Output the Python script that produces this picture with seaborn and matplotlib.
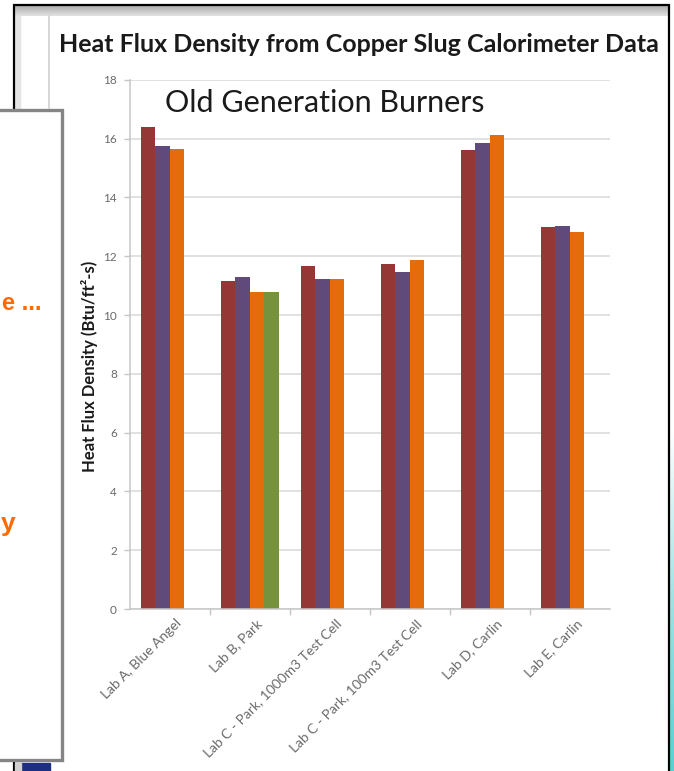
import numpy as np
import pandas as pd
import matplotlib
matplotlib.use("Agg")
import matplotlib.pyplot as plt
from matplotlib.patches import Rectangle
from matplotlib.transforms import ScaledTranslation
import seaborn as sns

# ---- data -------------------------------------------------------------
labs = ["Lab A, Blue Angel", "Lab B, Park", "Lab C - Park, 1000m3 Test Cell",
        "Lab C - Park, 100m3 Test Cell", "Lab D, Carlin", "Lab E, Carlin"]
runs = ["Run 1", "Run 2", "Run 3", "Run 4"]
run1 = [16.40, 11.15, 11.67, 11.75, 15.60, 13.00]
run2 = [15.76, 11.29, 11.22, 11.47, 15.86, 13.04]
run3 = [15.65, 10.78, 11.22, 11.88, 16.13, 12.82]
run4 = [None, 10.78, None, None, None, None]
colors = ["#953735", "#5f4a7b", "#e46c0a", "#76923c"]
yticks = [0, 2, 4, 6, 8, 10, 12, 14, 16, 18]

rows = []
for run, vals in zip(runs, [run1, run2, run3, run4]):
    for lab, v in zip(labs, vals):
        if v is not None:
            rows.append({"lab": lab, "run": run, "flux": v})
df = pd.DataFrame(rows)

sns.set_theme(style="white")
plt.rcParams["font.family"] = ["Lato", "DejaVu Sans"]

W, H = 674, 771
fig = plt.figure(figsize=(W / 100, H / 100), dpi=100)
fig.patch.set_facecolor("white")

# ---- slide background pieces (pixel coordinates) ----------------------
bg = fig.add_axes([0, 0, 1, 1], zorder=0)
bg.set_xlim(0, W)
bg.set_ylim(H, 0)
bg.axis("off")

# grey title bar gradient of the window
grad = np.linspace(0, 1, 64).reshape(-1, 1)
bg.imshow(grad, extent=[14, 669, 16, 5], cmap=matplotlib.colors.LinearSegmentedColormap.from_list(
    "bar", ["#a9a9a9", "#e2e2e2"]), aspect="auto", zorder=1)
bg.add_patch(Rectangle((14, 16), 6, H, color="#e4e4e4", zorder=1))
bg.plot([49, 49], [16, 108], color="#cfcfcf", lw=1.2, zorder=1)

# teal edge on the right
tgrad = np.linspace(0, 1, 128).reshape(-1, 1)
bg.imshow(tgrad, extent=[670, W, H, 430], cmap=matplotlib.colors.LinearSegmentedColormap.from_list(
    "teal", ["#ffffff", "#9fe2e4", "#5ccfd3"]), aspect="auto", origin="upper", zorder=1)

# black window frame
bg.plot([13.5, 13.5, 669, 669], [H, 4.5, 4.5, H], color="black", lw=1.6, zorder=2,
        solid_joinstyle="miter")

# navy block at the bottom left
bg.add_patch(Rectangle((21, 763), 29, 10, color="#1c2f82", zorder=2))
bg.add_patch(Rectangle((15, 763), 6, 10, color="#d0d0d0", zorder=2))

# overlapping text box on the left
bg.add_patch(Rectangle((-10, 109.5), 71.5, 650, facecolor="white", edgecolor="#858585",
                       lw=2.4, zorder=3))
bg.text(1.5, 304, "e ...", color="#ff6a00", fontsize=17, fontweight="bold",
        ha="left", va="center", zorder=4, family=["Liberation Sans", "DejaVu Sans"])
bg.text(1.0, 524, "y", color="#ff6a00", fontsize=19, fontweight="bold",
        ha="left", va="center", zorder=4, family=["Liberation Sans", "DejaVu Sans"])

# ---- chart titles ------------------------------------------------------
bg.text(359, 45, "Heat Flux Density from Copper Slug Calorimeter Data",
        fontsize=18, fontweight="bold", color="#1a1a1a", ha="center", va="center", zorder=4)
bg.text(325, 103, "Old Generation Burners", fontsize=22, color="#1a1a1a",
        ha="center", va="center", zorder=4)

# ---- bar chart ---------------------------------------------------------
left, right, top, bottom = 129.5, 609.5, 79.8, 609.0
ax = fig.add_axes([left / W, 1 - bottom / H, (right - left) / W, (bottom - top) / H], zorder=2)
ax.set_facecolor("none")

sns.barplot(data=df, x="lab", y="flux", hue="run", order=labs, hue_order=runs,
            palette=colors, saturation=1, width=0.725, legend=False, ax=ax,
            errorbar=None, linewidth=0)

ax.set_xlim(-0.5, len(labs) - 0.5)
ax.set_ylim(0, 18)
ax.set_yticks(yticks)
ax.set_yticklabels([str(t) for t in yticks])
ax.yaxis.grid(True, color="#d9d9d9", lw=1.1)
ax.xaxis.grid(False)
ax.set_axisbelow(True)

for s in ["top", "right"]:
    ax.spines[s].set_visible(False)
for s in ["left", "bottom"]:
    ax.spines[s].set_color("#c6c6c6")
    ax.spines[s].set_linewidth(1.1)

ax.tick_params(axis="y", which="major", left=True, length=4, width=1, color="#c6c6c6",
               pad=5, labelsize=8.5, labelcolor="#6a6a6a")
ax.set_xticks(np.arange(len(labs)))
ax.set_xticks(np.arange(len(labs) - 1) + 0.5, minor=True)
ax.tick_params(axis="x", which="major", length=0, pad=6, labelsize=10, labelcolor="#6a6a6a")
ax.tick_params(axis="x", which="minor", bottom=True, length=4, width=1, color="#c6c6c6")
shift = ScaledTranslation(6 / 100, 0, fig.dpi_scale_trans)
for lbl in ax.get_xticklabels():
    lbl.set_rotation(45)
    lbl.set_ha("right")
    lbl.set_va("top")
    lbl.set_rotation_mode("anchor")
    lbl.set_transform(lbl.get_transform() + shift)

ax.set_xlabel("")
ax.set_ylabel("Heat Flux Density (Btu/ft²-s)", fontsize=12, fontweight="bold",
              color="#1a1a1a", va="center")
ax.yaxis.set_label_coords((89 - left) / (right - left), (bottom - 366) / (bottom - top))

fig.savefig("out.png", dpi=100, facecolor="white")
